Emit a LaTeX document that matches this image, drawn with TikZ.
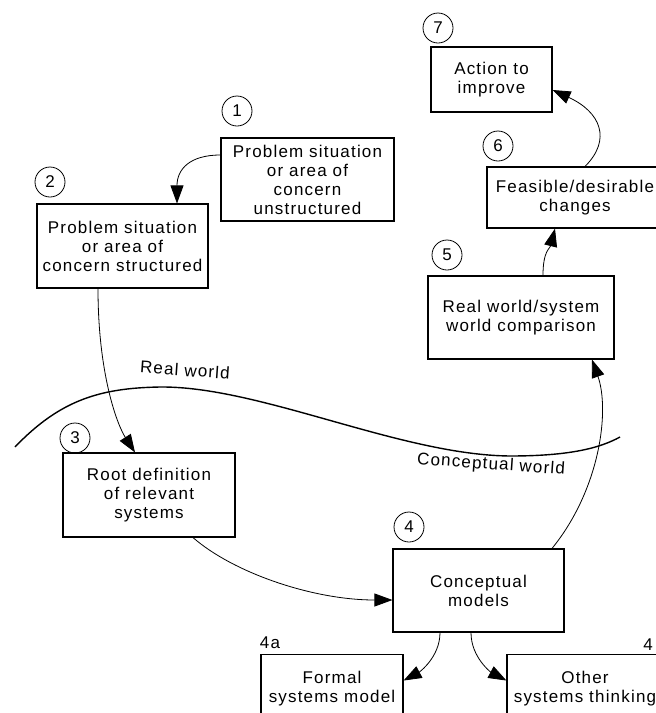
\documentclass[tikz,border=0pt]{standalone}
\usepackage{fontspec}
\setmainfont{Liberation Sans}[LetterSpace=7]
\usetikzlibrary{arrows.meta,calc}
\begin{document}
\begin{tikzpicture}[x=1pt,y=-1pt,
  txt/.style={font=\fontsize{17}{19}\selectfont},
  box/.style={draw,line width=1.1pt,align=center,inner sep=0pt,txt},
  num/.style={draw,circle,line width=0.8pt,minimum size=30pt,inner sep=0pt,txt},
  conn/.style={line width=0.8pt,-{Triangle[length=18pt,width=13pt]}},
  lbl/.style={txt,inner sep=0pt}]
\useasboundingbox (0,0) rectangle (656,713);
% boxes
\node[box,minimum width=173pt,minimum height=83pt] (b1) at (307.5,179.5) {Problem situation\\or area of\\concern\\unstructured};
\node[box,minimum width=171pt,minimum height=84pt] (b2) at (122.5,246) {Problem situation\\or area of\\concern structured};
\node[box,minimum width=172pt,minimum height=84pt] (b3) at (149,495) {Root definition\\of relevant\\systems};
\node[box,minimum width=171pt,minimum height=83pt] (b4) at (478.5,590.5) {Conceptual\\models};
\node[box,minimum width=186pt,minimum height=83pt] (b5) at (521,317.5) {Real world/system\\world comparison};
\node[box,minimum width=176pt,minimum height=61pt] (b6) at (575,197.5) {Feasible/desirable\\changes};
\node[box,minimum width=121pt,minimum height=65pt] (b7) at (491.5,79.5) {Action to\\improve};
\node[box,minimum width=142pt,minimum height=68pt,anchor=north] (b4a) at (332,654) {Formal\\systems model};
\node[box,minimum width=156pt,minimum height=68pt,anchor=north] (b4b) at (585,654) {Other\\systems thinking};
% numbers
\node[num] (n1) at (237,111) {1};
\node[num] (n2) at (50,182) {2};
\node[num] (n3) at (75,438) {3};
\node[num] (n4) at (409,527) {4};
\node[num] (n5) at (447,255) {5};
\node[num] (n6) at (498,146) {6};
\node[num] (n7) at (438,28) {7};
\node[lbl] (l4a) at (270,643) {4a};
\node[lbl] (l4b) at (648,645) {4};
% boundary
\draw[line width=1.4pt] (15,447) .. controls (60,400) and (100,388) .. (160,387)
  .. controls (260,386) and (400,455) .. (510,456)
  .. controls (570,456) and (600,448) .. (620,437);
\node[lbl,rotate=-4] (rw) at (185,370) {Real world};
\node[lbl,rotate=-4] (cw) at (491,465) {Conceptual world};
% connectors
\draw[conn] ([yshift=24.5pt]b1.west) .. controls +(-31,0) and +(0,-34) .. ([xshift=54.5pt]b2.north);
\draw[conn] ([xshift=-24.5pt]b2.south) .. controls +(0,85) and +(-18,-28) .. ([xshift=-14pt]b3.north);
\draw[conn] ([xshift=44pt]b3.south) .. controls +(40,35) and +(-80,0) .. ([yshift=-9.5pt]b4.west);
\draw[conn] ([xshift=73.5pt]b4.north) .. controls +(48,-59) and +(18,51) .. ([xshift=71pt]b5.south);
\draw[conn] ([xshift=22pt]b5.north) .. controls +(0,-25) and +(-5,20) .. ([xshift=-20pt]b6.south);
\draw[conn] ([xshift=10pt]b6.north) .. controls +(27,-27) and +(48,22) .. ([yshift=-10.5pt]b7.east);
\draw[conn] ([xshift=-38.5pt]b4.south) .. controls +(0,25) and +(15,-8) .. ([yshift=8pt]b4a.east);
\draw[conn] ([xshift=-7.5pt]b4.south) .. controls +(0,25) and +(-15,-8) .. ([yshift=8pt]b4b.west);
\end{tikzpicture}
\end{document}
